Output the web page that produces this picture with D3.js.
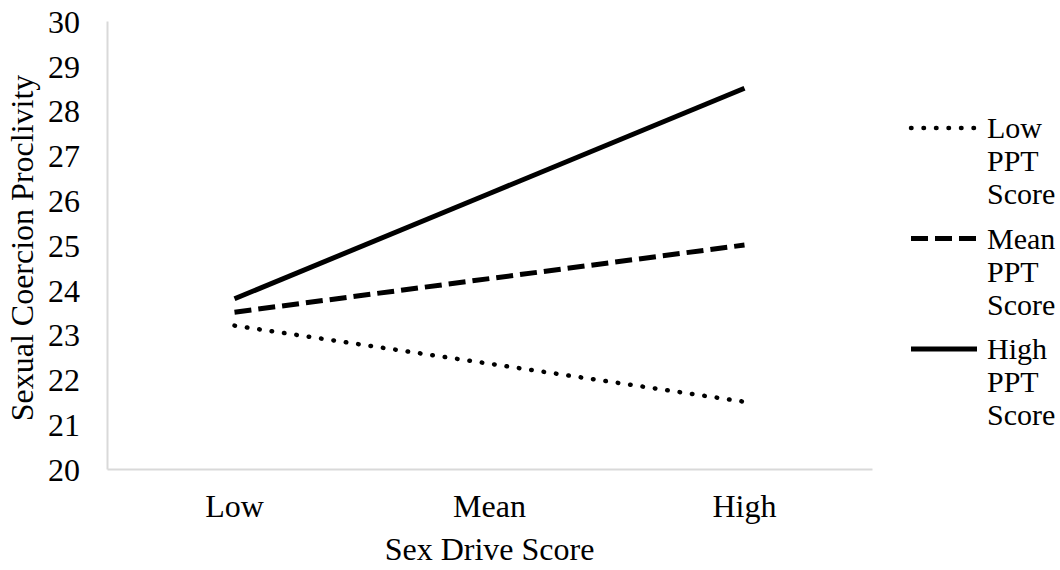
<!DOCTYPE html>
<html>
<head>
<meta charset="utf-8">
<script src="https://cdn.jsdelivr.net/npm/d3@7"></script>
<style>
  body { margin: 0; background: #fff; }
  svg, text, tspan { font-family: "Liberation Serif", "Times New Roman", serif; fill: #000; }
</style>
</head>
<body>
<div class="box"></div>
<script>
// DATA
const categories = ['Low', 'Mean', 'High'];
const seriesNames = ['Low PPT Score', 'Mean PPT Score', 'High PPT Score'];
const lowPPT = [23.2, 22.35, 21.5];
const meanPPT = [23.5, 24.25, 25.0];
const highPPT = [23.8, 26.15, 28.5];
const yTicks = [20, 21, 22, 23, 24, 25, 26, 27, 28, 29, 30];

// SETUP
const svg = d3.select('.box')
              .append('svg')
              .attr('width', 1060)
              .attr('height', 570);

const margin = {top: 21, left: 107};
const graphWidth = 765;
const graphHeight = 448;
const serif = '"Liberation Serif", "Times New Roman", serif';

const graph = svg.append('g')
                 .attr('transform', `translate(${margin.left}, ${margin.top})`);

const x = d3.scaleBand()
            .domain(categories)
            .range([0, graphWidth]);

const y = d3.scaleLinear()
            .domain([20, 30])
            .range([graphHeight, 0]);

// axes
const axeX = d3.axisBottom(x).tickSize(0).tickPadding(25);
const axeY = d3.axisLeft(y).tickValues(yTicks).tickSize(0).tickPadding(27);

const groupeX = graph.append('g')
                     .attr('transform', `translate(0, ${graphHeight})`)
                     .call(axeX);
const groupeY = graph.append('g').call(axeY);

[groupeX, groupeY].forEach(g => {
  g.attr('font-family', serif).attr('font-size', 32);
  g.select('.domain').attr('stroke', '#d9d9d9').attr('stroke-width', 2);
  g.selectAll('text')
   .style('font-family', serif)
   .style('font-size', '32px')
   .attr('fill', '#000');
});
groupeX.selectAll('text').attr('dy', '0.71em');
groupeY.selectAll('text').attr('dy', '0.35em');

// axis titles
svg.append('text')
   .text('Sex Drive Score')
   .attr('x', margin.left + graphWidth / 2)
   .attr('y', 560)
   .style('font-family', serif)
   .style('font-size', '32px')
   .style('text-anchor', 'middle');

svg.append('text')
   .text('Sexual Coercion Proclivity')
   .attr('transform', `translate(33, 248) rotate(-90)`)
   .style('font-family', serif)
   .style('font-size', '32px')
   .style('text-anchor', 'middle');

// lines
const styles = [
  {dash: '0.5,12', cap: 'round', width: 4.5},
  {dash: '17,7', cap: 'butt', width: 5},
  {dash: null, cap: 'butt', width: 5}
];
const allSeries = [lowPPT, meanPPT, highPPT];

const line = d3.line()
               .x((d, i) => x(categories[i]) + x.bandwidth() / 2)
               .y(d => y(d));

graph.selectAll('path.serie')
     .data(allSeries)
     .enter()
     .append('path')
     .attr('class', 'serie')
     .attr('d', line)
     .attr('fill', 'none')
     .attr('stroke', '#000')
     .attr('stroke-width', (d, i) => styles[i].width)
     .attr('stroke-linecap', (d, i) => styles[i].cap)
     .attr('stroke-dasharray', (d, i) => styles[i].dash);

// legend
const legend = svg.append('g').attr('transform', 'translate(909, 128)');
const items = legend.selectAll('g')
                    .data(seriesNames)
                    .enter()
                    .append('g')
                    .attr('transform', (d, i) => `translate(0, ${i * 110.5})`);

items.append('line')
     .attr('x1', 2).attr('x2', 68)
     .attr('y1', 0).attr('y2', 0)
     .attr('stroke', '#000')
     .attr('stroke-width', (d, i) => styles[i].width)
     .attr('stroke-linecap', (d, i) => styles[i].cap)
     .attr('stroke-dasharray', (d, i) => styles[i].dash);

items.append('text')
     .attr('x', 78)
     .attr('y', 10)
     .style('font-family', serif)
     .style('font-size', '30px')
     .selectAll('tspan')
     .data(d => d.split(' '))
     .enter()
     .append('tspan')
     .attr('x', 78)
     .attr('dy', (d, i) => i === 0 ? 0 : 33)
     .text(d => d);
</script>
</body>
</html>
